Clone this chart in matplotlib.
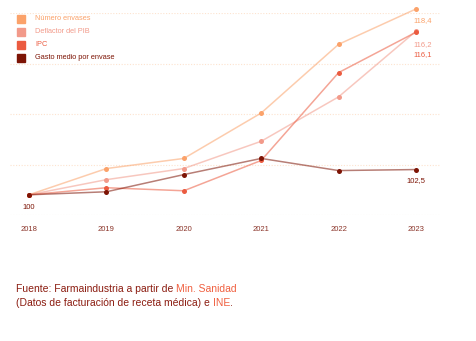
import matplotlib.pyplot as plt
import numpy as np

plt.rcParams['font.family'] = ['Liberation Sans', 'DejaVu Sans']

years = [2018, 2019, 2020, 2021, 2022, 2023]
envases = [100, 102.6, 103.6, 108.1, 114.9, 118.4]
deflactor = [100, 101.5, 102.6, 105.3, 109.7, 116.2]
ipc = [100, 100.7, 100.4, 103.4, 112.1, 116.1]
gasto = [100, 100.3, 102.0, 103.6, 102.4, 102.5]

names = ['Número envases', 'Deflactor del PIB', 'IPC', 'Gasto medio por envase']
colors = ['#fba26a', '#f29a8a', '#eb5b40', '#7d1405']
series = [envases, deflactor, ipc, gasto]

W, H = 476, 341
fig = plt.figure(figsize=(W / 100, H / 100), dpi=100)
ax_l, ax_r, ax_t, ax_b = 10, 440, 13, 215
ax = fig.add_axes([ax_l / W, 1 - ax_b / H, (ax_r - ax_l) / W, (ax_b - ax_t) / H])

ppy = (416 - 29) / 5
ax.set_xlim(2018 - (29 - ax_l) / ppy, 2023 + (ax_r - 416) / ppy)
ax.set_ylim(98, 118)

for y in [98, 103, 108, 113, 118]:
    ax.axhline(y, color='#fde3cf', lw=0.8, ls=(0, (1, 1.5)), zorder=0)

for vals, c in zip(series, colors):
    ax.plot(years, vals, color=c, lw=1.1, alpha=0.55, clip_on=False, zorder=2)
    ax.plot(years, vals, 'o', color=c, ms=3.6, mew=0, clip_on=False, zorder=3)

for s in ax.spines.values():
    s.set_visible(False)
ax.set_yticks([])
ax.set_xticks(years)
ax.set_xticklabels([str(y) for y in years])
ax.tick_params(axis='x', length=0, pad=8, labelsize=5.5, labelcolor='#8a3328')

# value labels
ax.text(2018, 99.1, '100', ha='center', va='top', fontsize=5.5, color='#7d1405')
ax.text(2023, 101.8, '102,5', ha='center', va='top', fontsize=5.5, color='#7d1405')
ax.text(2022.97, 117.6, '118,4', ha='left', va='top', fontsize=5.5, color=colors[0])
ax.text(2022.97, 115.2, '116,2', ha='left', va='top', fontsize=5.5, color=colors[1])
ax.text(2022.97, 114.2, '116,1', ha='left', va='top', fontsize=5.5, color=colors[2])

# legend
for i, (n, c) in enumerate(zip(names, colors)):
    yy = 1 - (18.5 + i * 13) / H
    fig.patches.append(plt.Rectangle((17 / W, yy - 4 / H), 8 / W, 8 / H,
                                     transform=fig.transFigure, color=c))
    fig.text(35 / W, yy, n, fontsize=5.3, color=c, va='center', ha='left')

# source
dark = '#8b1c10'
orange = '#f06040'
def line(parts, y):
    x = 16 / W
    r = fig.canvas.get_renderer()
    for txt, c in parts:
        t = fig.text(x, 1 - y / H, txt, fontsize=7.45, color=c, va='center', ha='left')
        bb = t.get_window_extent(renderer=r)
        x += bb.width / W

line([('Fuente: Farmaindustria a partir de ', dark), ('Min. Sanidad', orange)], 289)
line([('(Datos de facturación de receta médica) e ', dark), ('INE', orange), ('.', dark)], 303)

fig.savefig('out.png', dpi=100, facecolor='white')
